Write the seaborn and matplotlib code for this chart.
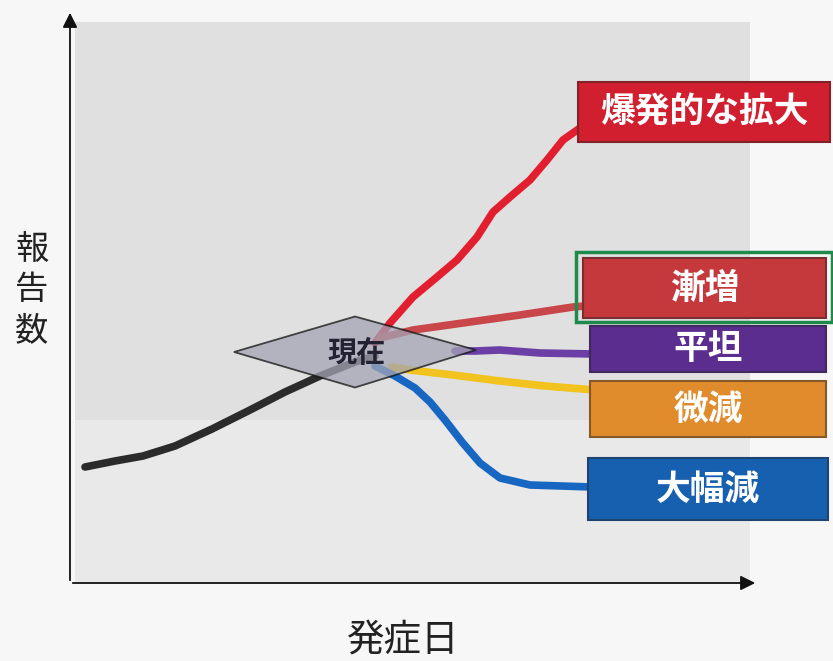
import matplotlib
matplotlib.use("Agg")
import matplotlib.pyplot as plt
from matplotlib.patches import Rectangle, Polygon
import seaborn as sns
import pandas as pd

# ---- data (arbitrary units: x = days since onset, y = number of reports) ----
hist_x = [1.5, 4.5, 7.3, 10.5, 14.2, 18.0, 21.5, 25.0, 28.5, 30.5]
hist_y = [11.6, 12.2, 12.7, 13.7, 15.4, 17.3, 19.1, 20.7, 22.1, 22.7]

expl_x = [30.5, 32, 34.3, 36.7, 38.7, 40.7, 42.3, 44, 46, 47.7, 49.3, 51]
expl_y = [24.0, 26.0, 28.6, 30.6, 32.3, 34.6, 37.1, 38.6, 40.3, 42.3, 44.3, 45.5]

grad_x = [31.0, 34.3, 40, 45, 50.3, 51.5]
grad_y = [24.5, 25.3, 26.1, 26.8, 27.6, 27.7]

flat_x = [38.5, 40.5, 43, 47, 52.5]
flat_y = [23.2, 23.2, 23.3, 23.0, 22.9]

slight_x = [32.2, 34, 38.3, 43, 47.5, 52.5]
slight_y = [21.6, 21.3, 20.8, 20.2, 19.7, 19.3]

large_x = [30.5, 32.5, 34.5, 36, 37.5, 39.2, 41, 43, 46, 52.2]
large_y = [21.7, 20.7, 19.5, 18.1, 16.3, 14.1, 12.0, 10.5, 9.8, 9.6]

series_names = ["現状", "爆発的な拡大", "漸増", "平坦", "微減", "大幅減"]
series_x = [hist_x, expl_x, grad_x, flat_x, slight_x, large_x]
series_y = [hist_y, expl_y, grad_y, flat_y, slight_y, large_y]
line_colors = ["#2b2b2b", "#e21f2e", "#c9464b", "#6b3fa6", "#f2c21f", "#1766c2"]

now_label = "現在"
now_x, now_y = 28.5, 23.1
x_label = "発症日"
y_label = "報告数"

# label boxes: (text, x0, x1, y0, y1, color)
boxes = [
    ("爆発的な拡大", 50.8, 76.0, 44.1, 50.1, "#d21f30"),
    ("漸増", 51.3, 75.6, 26.5, 32.5, "#c5383c"),
    ("平坦", 52.0, 75.6, 21.1, 25.7, "#5a2d8e"),
    ("微減", 52.0, 75.6, 14.6, 20.2, "#e08c2c"),
    ("大幅減", 51.8, 75.8, 6.3, 12.5, "#1760b0"),
]

rows = []
for name, xs, ys in zip(series_names, series_x, series_y):
    for xv, yv in zip(xs, ys):
        rows.append({"series": name, "day": xv, "reports": yv})
df = pd.DataFrame(rows)

sns.set_theme(style="white")
plt.rcParams["font.family"] = ["Noto Sans CJK JP", "DejaVu Sans"]

fig = plt.figure(figsize=(8.33, 6.61), dpi=100)
fig.patch.set_facecolor("#f7f7f7")
ax = fig.add_axes([0, 0, 1, 1])
ax.set_facecolor("#f7f7f7")

# background panels
ax.add_patch(Rectangle((0.5, 0), 67.5, 56.1, facecolor="#e9e9e9", edgecolor="none", zorder=0))
ax.add_patch(Rectangle((0.5, 16.3), 67.5, 39.8, facecolor="#e0e0e0", edgecolor="none", zorder=0))

# lines
sns.lineplot(data=df, x="day", y="reports", hue="series", estimator=None,
             sort=False, palette=dict(zip(series_names, line_colors)),
             linewidth=5.5, legend=False, ax=ax, zorder=2)
for ln in ax.get_lines():
    ln.set_solid_capstyle("round")
    ln.set_solid_joinstyle("round")

ax.set_xlim(-7.0, 76.3)
ax.set_ylim(-7.8, 58.3)
ax.axis("off")

# axes arrows
ax.annotate("", xy=(0, 57.3), xytext=(0, 0),
            arrowprops=dict(arrowstyle="-|>", color="#111111", lw=1.3, mutation_scale=22), zorder=3)
ax.annotate("", xy=(68.8, 0), xytext=(0, 0),
            arrowprops=dict(arrowstyle="-|>", color="#111111", lw=1.3, mutation_scale=22), zorder=3)

# "now" diamond
hw, hh = 12.1, 3.55
ax.add_patch(Polygon([(now_x - hw, now_y), (now_x, now_y + hh), (now_x + hw, now_y + 0.2),
                      (now_x, now_y - hh)], closed=True, facecolor="#a4a4b4", alpha=0.75,
                     edgecolor="#111111", lw=1.3, zorder=4))
ax.text(now_x + 0.2, now_y - 0.1, now_label, ha="center", va="center", fontsize=21,
        fontweight="bold", color="#222233", zorder=5)

# label boxes
for text, x0, x1, y0, y1, col in boxes:
    ax.add_patch(Rectangle((x0, y0), x1 - x0, y1 - y0, facecolor=col,
                           edgecolor=sns.dark_palette(col, 3)[1], lw=1.5, zorder=6))
    ax.text((x0 + x1) / 2, (y0 + y1) / 2, text, ha="center", va="center", fontsize=25,
            fontweight="bold", color="white", zorder=7)

# green highlight around 漸増
ax.add_patch(Rectangle((50.6, 26.1), 25.6, 7.0, facecolor="none", edgecolor="#1f8a4c",
                       lw=2.5, zorder=8))

# axis labels
ax.text(-3.8, 29.3, "\n".join(y_label), ha="center", va="center", fontsize=24,
        linespacing=1.2, color="#222222")
ax.text(33.3, -5.7, x_label, ha="center", va="center", fontsize=27, color="#222222")

fig.savefig("out.png", dpi=100, facecolor=fig.get_facecolor())
